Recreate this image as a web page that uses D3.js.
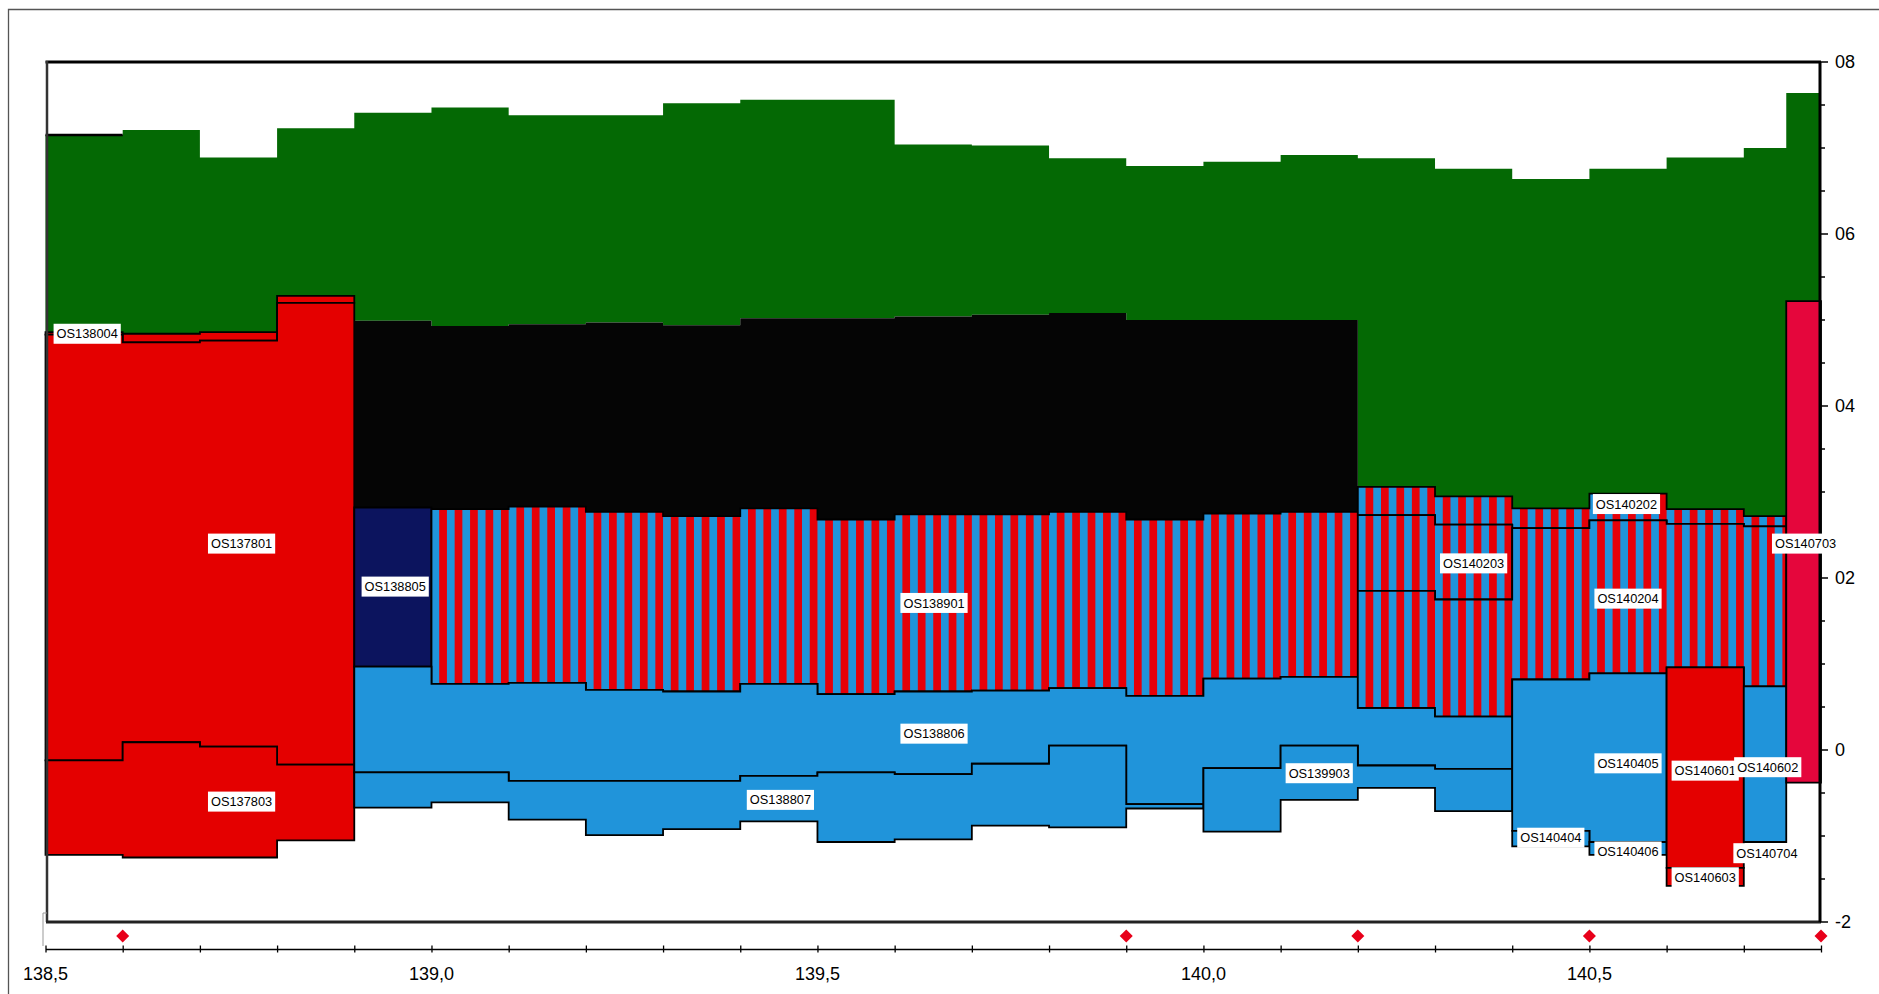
<!DOCTYPE html>
<html><head><meta charset="utf-8">
<script src="https://cdn.jsdelivr.net/npm/d3@7"></script>
<style>html,body{margin:0;padding:0;background:#fff;} svg{display:block;font-family:"Liberation Sans",Arial,sans-serif;}</style>
</head><body>
<svg id="chart" width="1879" height="994"></svg>
<script>
// ---------- DATA ----------
const edges = [138.5,138.6,138.7,138.8,138.9,139.0,139.1,139.2,139.3,139.4,139.5,139.6,139.7,139.8,139.9,140.0,140.1,140.2,140.3,140.4,140.5,140.6,140.7,140.755,140.8];

const greenTop  = [7.15,7.21,6.89,7.23,7.41,7.47,7.38,7.38,7.52,7.56,7.56,7.04,7.03,6.88,6.79,6.84,6.92,6.88,6.76,6.64,6.76,6.89,7.00,7.64];
const greenBase = [4.86,4.84,4.86,5.28,4.99,4.93,4.95,4.97,4.94,5.02,5.02,5.04,5.06,5.08,5.00,5.00,5.00,3.06,2.95,2.81,2.98,2.80,2.72,5.22];

const os138004Top  = [4.86,4.84,4.86,5.28];
const os138004Base = [4.83,4.74,4.76,5.20];
const os137801Base = [-0.12,0.09,0.04,-0.17];
const os137803Base = [-1.22,-1.25,-1.25,-1.05];

const blackTop  = [4.99,4.93,4.95,4.97,4.94,5.02,5.02,5.04,5.06,5.08,5.00,5.00,5.00];
const blackBase = [2.82,2.80,2.83,2.77,2.72,2.81,2.68,2.74,2.74,2.77,2.68,2.75,2.77];

const os138805Top = [2.82], os138805Base = [0.97];
const os138901Top  = [2.80,2.83,2.77,2.72,2.81,2.68,2.74,2.74,2.77,2.68,2.75,2.77];
const os138901Base = [0.77,0.78,0.70,0.68,0.77,0.65,0.68,0.69,0.72,0.63,0.83,0.85];
const os138806Top  = [0.97,0.77,0.78,0.70,0.68,0.77,0.65,0.68,0.69,0.72,0.63,0.83,0.85,0.49,0.39];
const os138806Base = [-0.26,-0.26,-0.36,-0.36,-0.36,-0.30,-0.26,-0.28,-0.16,0.05,-0.63,-0.21,0.05,-0.18,-0.22];
const os138807Top  = [-0.26,-0.26,-0.36,-0.36,-0.36,-0.30,-0.26,-0.28,-0.16,0.05,-0.63];
const os138807Base = [-0.67,-0.61,-0.81,-0.99,-0.92,-0.83,-1.07,-1.04,-0.88,-0.90,-0.68];
const os139903Top  = [-0.21,0.05,-0.18,-0.22];
const os139903Base = [-0.95,-0.58,-0.44,-0.71];

const os140202Top  = [3.06,2.95,2.81,2.98,2.80,2.72];
const os140202Base = [2.73,2.62,2.58,2.67,2.63,2.60];
const os140203Top  = [2.73,2.62];
const os140203Base = [1.85,1.75];
const os140204Top  = [1.85,1.75,2.58,2.67,2.63,2.60];
const os140204Base = [0.49,0.39,0.82,0.89,0.96,0.74];
const os140405Top = [0.82,0.89], os140405Base = [-0.94,-1.07];
const os140404Top = [-0.94], os140404Base = [-1.12];
const os140406Top = [-1.07], os140406Base = [-1.22];
const os140601Top = [0.96], os140601Base = [-1.37];
const os140603Top = [-1.37], os140603Base = [-1.58];
const os140602Top = [0.74], os140602Base = [-1.07];
const os140703Top = [5.22], os140703Base = [-0.38];

// layer list: [id, first segment index, tops, bases]
const layerList = [
  ["green",0,greenTop,greenBase],
  ["OS138004",0,os138004Top,os138004Base],
  ["OS137801",0,os138004Base,os137801Base],
  ["OS137803",0,os137801Base,os137803Base],
  ["black",4,blackTop,blackBase],
  ["OS138805",4,os138805Top,os138805Base],
  ["OS138901",5,os138901Top,os138901Base],
  ["OS138806",4,os138806Top,os138806Base],
  ["OS138807",4,os138807Top,os138807Base],
  ["OS139903",15,os139903Top,os139903Base],
  ["OS140202",17,os140202Top,os140202Base],
  ["OS140203",17,os140203Top,os140203Base],
  ["OS140204",17,os140204Top,os140204Base],
  ["OS140405",19,os140405Top,os140405Base],
  ["OS140404",19,os140404Top,os140404Base],
  ["OS140406",20,os140406Top,os140406Base],
  ["OS140601",21,os140601Top,os140601Base],
  ["OS140603",21,os140603Top,os140603Base],
  ["OS140602",22,os140602Top,os140602Base],
  ["OS140703",23,os140703Top,os140703Base]
];

const labelNames = ["OS138004","OS137801","OS137803","OS138805","OS138901","OS138806","OS138807","OS139903","OS140203","OS140202","OS140204","OS140405","OS140601","OS140602","OS140703","OS140404","OS140406","OS140704","OS140603"];
const labelX = [138.554,138.754,138.754,138.953,139.651,139.651,139.452,140.15,140.35,140.548,140.55,140.55,140.65,140.731,140.78,140.45,140.55,140.73,140.65];
const labelY = [4.84,2.40,-0.60,1.90,1.71,0.19,-0.58,-0.27,2.17,2.86,1.76,-0.155,-0.24,-0.20,2.40,-1.02,-1.18,-1.20,-1.48];

const markerX = [138.6,139.9,140.2,140.5,140.8];
const xTickVals = d3.range(0,24).map(i => 138.5 + i*0.1);
const xLabelVals = [138.5,139.0,139.5,140.0,140.5];
const xLabelText = ["138,5","139,0","139,5","140,0","140,5"];
const yTickVals = d3.range(0,21).map(i => -2 + i*0.5);
const yLabelVals = [-2,0,2,4,6,8];
const yLabelText = ["-2","0","02","04","06","08"];

// ---------- DRAW ----------
const svg = d3.select("#chart");
const x = d3.scaleLinear().domain([138.5,140.8]).range([45.5,1821]);
const y = d3.scaleLinear().domain([-2,8]).range([922,62]);

const material = {
  green:"green", black:"black",
  OS138004:"red", OS137801:"red", OS137803:"red", OS140601:"red", OS140603:"red",
  OS138805:"navy", OS138901:"stripe", OS140202:"stripe", OS140203:"stripe", OS140204:"stripe",
  OS138806:"blue", OS138807:"blue", OS139903:"blue", OS140405:"blue", OS140404:"blue", OS140406:"blue", OS140602:"blue",
  OS140703:"crimson"
};
const fills = {green:"#046904", black:"#050505", red:"#E40000", navy:"#0C145E", stripe:"url(#stripes)", blue:"#2094DA", crimson:"#E5063C"};

// stripe pattern
const pw = (x(138.6)-x(138.5))/5;
const defs = svg.append("defs");
const pat = defs.append("pattern").attr("id","stripes").attr("patternUnits","userSpaceOnUse")
  .attr("x",x(138.5)).attr("y",0).attr("width",pw).attr("height",20);
pat.append("rect").attr("x",0).attr("y",0).attr("width",pw/2+0.3).attr("height",20).attr("fill","#2094DA");
pat.append("rect").attr("x",pw/2).attr("y",0).attr("width",pw/2).attr("height",20).attr("fill","#E60008");

// outer frame
svg.append("path").attr("d","M8.5,994 L8.5,9.5 L1879,9.5").attr("fill","none").attr("stroke","#555").attr("stroke-width",1.3);

function layerPath(first, tops, bases){
  const pts = [];
  tops.forEach((t,k)=>{ pts.push([x(edges[first+k]),y(t)]); pts.push([x(edges[first+k+1]),y(t)]); });
  for(let k=bases.length-1;k>=0;k--){ pts.push([x(edges[first+k+1]),y(bases[k])]); pts.push([x(edges[first+k]),y(bases[k])]); }
  return d3.line()(pts)+"Z";
}

const gL = svg.append("g");
layerList.forEach(([id,first,tops,bases])=>{
  const m = material[id];
  const noStroke = (m==="green"||m==="black");
  gL.append("path").attr("d",layerPath(first,tops,bases))
    .attr("fill",fills[m])
    .attr("stroke",noStroke?"none":"#000")
    .attr("stroke-width",1.8)
    .attr("stroke-linejoin","miter");
});
// black line on first green segment top
gL.append("line").attr("x1",x(edges[0])).attr("x2",x(edges[1])).attr("y1",y(greenTop[0])).attr("y2",y(greenTop[0]))
  .attr("stroke","#000").attr("stroke-width",2.5);

// plot frame
svg.append("line").attr("x1",x(138.5)).attr("x2",x(140.8)).attr("y1",y(8)).attr("y2",y(8)).attr("stroke","#000").attr("stroke-width",3.2);
svg.append("line").attr("x1",47).attr("x2",47).attr("y1",y(8)-1).attr("y2",y(-2)).attr("stroke","#333").attr("stroke-width",2.5);
svg.append("line").attr("x1",46).attr("x2",x(140.8)).attr("y1",y(-2)).attr("y2",y(-2)).attr("stroke","#222").attr("stroke-width",3);
svg.append("path").attr("d","M47,913 L43,913 L43,946").attr("fill","none").attr("stroke","#999").attr("stroke-width",1);

// right y axis
const yAxisG = svg.append("g").attr("transform",`translate(${x(140.8)-1},0)`);
yAxisG.append("line").attr("y1",y(8)).attr("y2",y(-2)).attr("stroke","#000").attr("stroke-width",3);
yAxisG.selectAll("line.tk").data(yTickVals).join("line").attr("class","tk")
  .attr("x1",0).attr("x2",d=> yLabelVals.includes(d)?8:5).attr("y1",d=>y(d)).attr("y2",d=>y(d))
  .attr("stroke","#000").attr("stroke-width",1.5);
yAxisG.selectAll("text").data(yLabelVals).join("text")
  .attr("x",15).attr("y",d=>y(d)).attr("dy","0.35em").attr("font-size",18).attr("fill","#000")
  .text((d,i)=>yLabelText[i]);

// bottom x axis
const axisY = 949;
const xAxis = d3.axisBottom(x).tickValues(xTickVals).tickSizeInner(3.5).tickSizeOuter(0).tickFormat(()=> "");
const xg = svg.append("g").attr("transform",`translate(0,${axisY})`).call(xAxis);
xg.select(".domain").attr("stroke","#000").attr("stroke-width",1.6);
xg.selectAll(".tick line").attr("y1",-3.5).attr("y2",3.5).attr("stroke","#000").attr("stroke-width",1.3);
svg.append("g").selectAll("text").data(xLabelVals).join("text")
  .attr("x",d=>x(d)).attr("y",axisY+31).attr("text-anchor","middle").attr("font-size",18).attr("fill","#000")
  .text((d,i)=>xLabelText[i]);

// diamonds
svg.append("g").selectAll("path").data(markerX).join("path")
  .attr("d",d3.symbol(d3.symbolSquare,85)())
  .attr("transform",d=>`translate(${x(d)},${936}) rotate(45)`)
  .attr("fill","#E8001A");

// labels
const gLab = svg.append("g");
labelNames.forEach((n,i)=>{
  const g = gLab.append("g").attr("transform",`translate(${x(labelX[i])},${y(labelY[i])})`);
  const r = g.append("rect").attr("fill","#fff");
  const t = g.append("text").attr("text-anchor","middle").attr("dy","0.36em").attr("font-size",12.8).attr("fill","#000").text(n);
  const w = t.node().getComputedTextLength()+6;
  r.attr("x",-w/2).attr("y",-10).attr("width",w).attr("height",20);
});
</script>
</body></html>
